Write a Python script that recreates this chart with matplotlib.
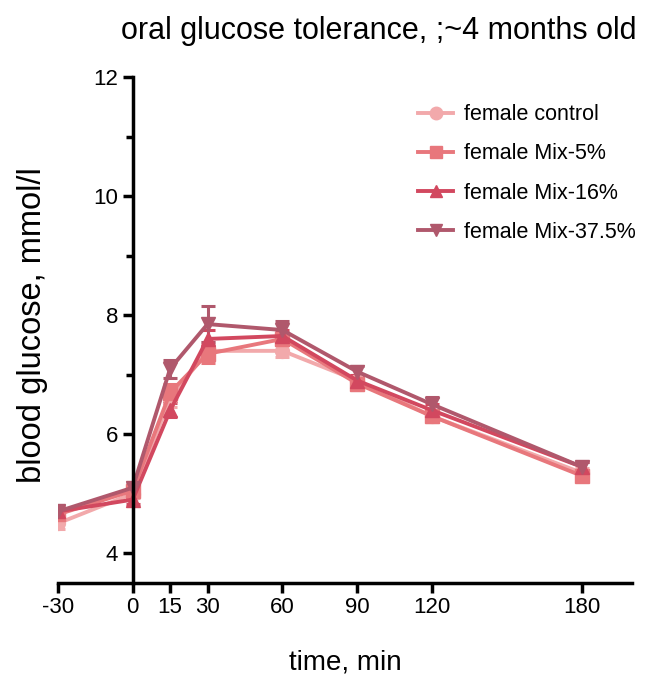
import matplotlib
matplotlib.use("Agg")
import matplotlib.pyplot as plt
from matplotlib.ticker import MultipleLocator
from matplotlib.lines import Line2D

plt.rcParams['font.family'] = ['Liberation Sans', 'DejaVu Sans']
plt.rcParams['axes.unicode_minus'] = False

time = [-30, 0, 15, 30, 60, 90, 120, 180]
series_names = ["female control", "female Mix-5%", "female Mix-16%", "female Mix-37.5%"]
control = [4.50, 5.00, 6.60, 7.40, 7.40, 6.90, 6.30, 5.35]
mix5 = [4.65, 5.05, 6.70, 7.35, 7.60, 6.85, 6.30, 5.30]
mix16 = [4.70, 4.90, 6.40, 7.60, 7.65, 6.90, 6.40, 5.45]
mix375 = [4.70, 5.10, 7.10, 7.85, 7.75, 7.05, 6.50, 5.45]
err_control = [0.10, 0.08, 0.15, 0.15, 0.10, 0.10, 0.10, 0.08]
err_mix5 = [0.10, 0.08, 0.15, 0.15, 0.10, 0.10, 0.10, 0.08]
err_mix16 = [0.10, 0.08, 0.12, 0.15, 0.10, 0.10, 0.10, 0.08]
err_mix375 = [0.10, 0.08, 0.15, 0.30, 0.15, 0.10, 0.12, 0.08]
colors = ["#f2a9ab", "#e8777c", "#d2485f", "#b0586c"]
markers = ["o", "s", "^", "v"]

fig = plt.figure(figsize=(6.5, 6.89), dpi=100)
ax = fig.add_axes([0.089, 0.154, 0.883, 0.734])

handles = []
for vals, errs, c, m, name in zip([control, mix5, mix16, mix375],
                                   [err_control, err_mix5, err_mix16, err_mix375],
                                   colors, markers, series_names):
    ax.errorbar(time, vals, yerr=errs, color=c, marker=m, markersize=10,
                linewidth=2.8, elinewidth=2.2, capsize=5, capthick=2.2)
    handles.append(Line2D([], [], color=c, marker=m, markersize=9,
                          linewidth=2.8, label=name))

ax.set_xlim(-30, 200)
ax.set_ylim(3.5, 12)
ax.spines['left'].set_position(('data', 0))
ax.spines['right'].set_visible(False)
ax.spines['top'].set_visible(False)
ax.spines['left'].set_linewidth(2.5)
ax.spines['bottom'].set_linewidth(2.5)
ax.set_xticks(time)
ax.set_yticks([4, 6, 8, 10, 12])
ax.yaxis.set_minor_locator(MultipleLocator(1))
ax.tick_params(axis='both', which='major', width=2.5, length=7, labelsize=16, direction='out')
ax.tick_params(axis='y', which='minor', width=2.5, length=5)

ax.set_xlabel("time, min", fontsize=20, labelpad=22)
ax.set_ylabel("blood glucose, mmol/l", fontsize=23.5)
ax.yaxis.set_label_coords(-0.018, 0.51, transform=ax.transAxes)
fig.text(0.583, 0.955, "oral glucose tolerance, ;~4 months old", fontsize=22,
         ha='center', va='center')

leg = ax.legend(handles=handles, loc='upper right', bbox_to_anchor=(1.04, 0.985), frameon=False,
                fontsize=15.5, handlelength=1.6, handletextpad=0.5, labelspacing=0.85)

fig.savefig("out.png", dpi=100)
